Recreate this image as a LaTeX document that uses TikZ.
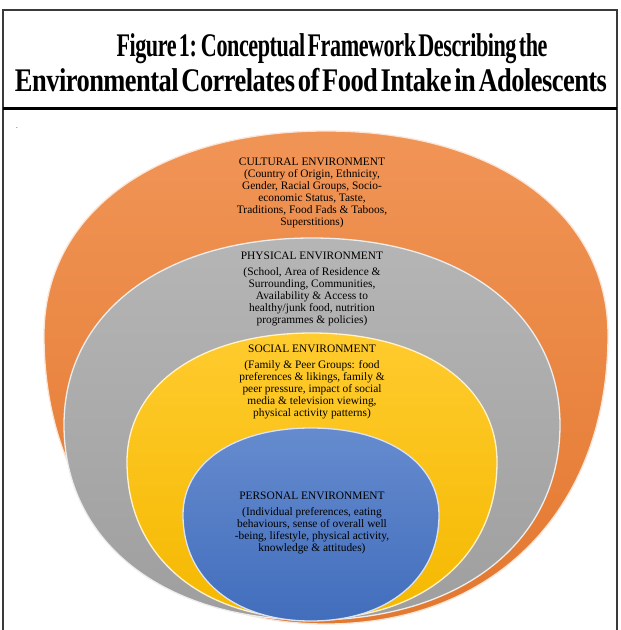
\documentclass[tikz,border=0pt]{standalone}
\usepackage{fontspec}
\setmainfont{Liberation Serif}
\newfontfamily\titlefont{Liberation Serif}[LetterSpace=-2, WordSpace=0.45]
\usepackage{graphicx}
\usetikzlibrary{positioning}
\definecolor{envorange}{HTML}{ED7D31}
\definecolor{envgray}{HTML}{A5A5A5}
\definecolor{envyellow}{HTML}{FFC000}
\definecolor{envblue}{HTML}{4472C4}
\definecolor{framegray}{HTML}{3A3A3A}
% squeeze a title line to a given width, height kept
\newcommand{\squeezeto}[2]{\resizebox{#1}{\height}{#2}}
% egg outline: centre x, widest y, half width, top y, bottom y
\newcommand{\eggpath}[5]{%
  ({#1-#3},#2) .. controls ({#1-#3},{#2-0.6*(#2-#4)}) and ({#1-0.6*#3},#4) .. (#1,#4)
  .. controls ({#1+0.6*#3},#4) and ({#1+#3},{#2-0.6*(#2-#4)}) .. ({#1+#3},#2)
  .. controls ({#1+#3},{#2+0.6*(#5-#2)}) and ({#1+0.6*#3},#5) .. (#1,#5)
  .. controls ({#1-0.6*#3},#5) and ({#1-#3},{#2+0.6*(#5-#2)}) .. cycle}
\tikzset{
  layer/.style={top color=#1!82!white, bottom color=#1!96!black, draw=white!80!#1, line width=1.3pt},
  envtext/.style={align=center, inner sep=0pt, text=black,
                  font=\fontsize{11.4}{12}\selectfont},
  titleline/.style={anchor=base, inner sep=0pt, font=\titlefont\fontsize{33}{33}\selectfont\bfseries},
  framerule/.style={draw=framegray, line width=1.8pt},
}

\begin{document}
\begin{tikzpicture}[x=1pt, y=-1pt]
  \useasboundingbox (0,0) rectangle (621,630);

  % frame and title band
  \draw[framerule] (3,632) -- (3,10) -- (617,10) -- (617,632);
  \draw[line width=3pt] (3,108) -- (617,108);
  \node[titleline] (t1) at (332,56) {\squeezeto{431pt}{Figure 1: Conceptual Framework Describing the}};
  \node[titleline] (t2) at (311,91) {\squeezeto{592pt}{Environmental Correlates of Food Intake in Adolescents}};
  \node[font=\fontsize{7}{7}\selectfont, inner sep=0pt] (dot) at (17,128) {.};

  % nested environments, outer to inner
  \shade[layer=envorange]  \eggpath{326}{335}{282}{131}{624};
  \shade[layer=envgray]    \eggpath{312}{425}{248}{238}{620};
  \shade[layer=envyellow]  \eggpath{312}{462}{185}{333}{619};
  \shade[layer=envblue]    \eggpath{311}{515}{128}{428}{621};

  \node[envtext, anchor=north] (cult) at (312,158) {CULTURAL ENVIRONMENT\\
    (Country of Origin, Ethnicity,\\Gender, Racial Groups, Socio-\\economic Status, Taste,\\
    Traditions, Food Fads \& Taboos,\\Superstitions)};
  \node[envtext, anchor=north] (phys) at (312,252) {PHYSICAL ENVIRONMENT\\[4pt]
    (School, Area of Residence \&\\Surrounding, Communities,\\Availability \& Access to\\
    healthy/junk food, nutrition\\programmes \& policies)};
  \node[envtext, anchor=north] (soc) at (312,345) {SOCIAL ENVIRONMENT\\[4pt]
    (Family \& Peer Groups: food\\preferences \& likings, family \&\\peer pressure, impact of social\\
    media \& television viewing,\\physical activity patterns)};
  \node[envtext, anchor=north] (pers) at (312,492) {PERSONAL ENVIRONMENT\\[4pt]
    (Individual preferences, eating\\behaviours, sense of overall well\\-being, lifestyle, physical activity,\\
    knowledge \& attitudes)};
\end{tikzpicture}
\end{document}
